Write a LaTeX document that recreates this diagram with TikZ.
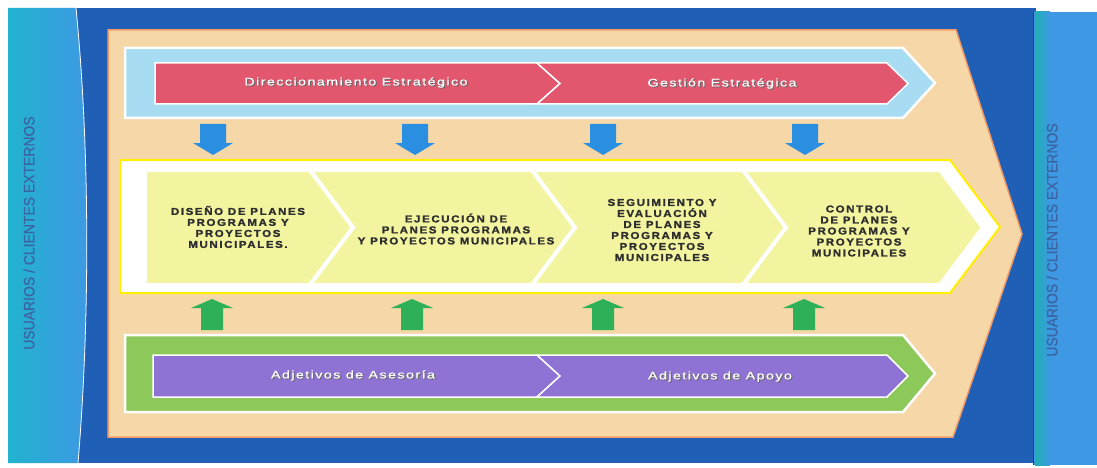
\documentclass[tikz,border=0pt]{standalone}
\usepackage{fontspec}
\setmainfont{Liberation Sans}
\newfontfamily\chevfont[LetterSpace=14, BoldFeatures={FakeBold=1.6}]{Liberation Sans}
\newfontfamily\bandfont[LetterSpace=10, FakeBold=0.6]{Liberation Sans}
\newfontfamily\vertfont[FakeBold=0.8]{Liberation Sans}
\definecolor{darkblue}{HTML}{1F5FB5}
\definecolor{cyanA}{HTML}{22B3CF}
\definecolor{cyanB}{HTML}{3E98E4}
\definecolor{tealstrip}{HTML}{1FB0B0}
\definecolor{beige}{HTML}{F6D8A8}
\definecolor{orangeline}{HTML}{F49A68}
\definecolor{lightblue}{HTML}{A8DCF2}
\definecolor{redband}{HTML}{E2566E}
\definecolor{paleyellow}{HTML}{F2F4A0}
\definecolor{yellowline}{HTML}{FFF000}
\definecolor{greenband}{HTML}{8DC85A}
\definecolor{purpleband}{HTML}{8E72D4}
\definecolor{bluearrowc}{HTML}{2A8FE0}
\definecolor{greenarrowc}{HTML}{2DB058}
\definecolor{chevtext}{HTML}{2E2E2E}
\definecolor{verttext}{HTML}{3A65A0}
\definecolor{shadowgray}{HTML}{6A6A6A}
\newcommand\shadowed[1]{\makebox[0pt][l]{\kern0.9pt\raisebox{-0.9pt}{\textcolor{shadowgray}{#1}}}\textcolor{white}{#1}}
\begin{document}
\begin{tikzpicture}[x=1pt,y=-1pt,
  bandouter/.style={line width=2.5pt, draw=white},
  bandinner/.style={line width=1.5pt, draw=white},
  chevbox/.style={fill=paleyellow, draw=white, line width=4pt, line join=miter},
  chevlabel/.style={font=\chevfont\bfseries\fontsize{10}{11}\selectfont, text=chevtext, align=center, xscale=1.15, transform shape, inner sep=0pt},
  bandlabel/.style={font=\bandfont\fontsize{11}{13}\selectfont, xscale=1.3, transform shape, inner sep=0pt},
  vertlabel/.style={font=\vertfont\fontsize{15}{17}\selectfont, text=verttext, rotate=90, xscale=0.93, transform shape, inner sep=0pt},
  downarrow/.style={fill=bluearrowc},
  uparrow/.style={fill=greenarrowc}]
\useasboundingbox (0,0) rectangle (1097,468);
\fill[white] (0,0) rectangle (1097,468);
% outer blue
\fill[darkblue] (8,8) rectangle (1036,463);
% left bar
\shade[left color=cyanA, right color=cyanB] (8,8) -- (76,8) .. controls (90,150) and (90,320) .. (78,463) -- (8,463) -- cycle;
\draw[white, line width=0.8pt] (76,8) .. controls (90,150) and (90,320) .. (78,463);
% right bar
\fill[cyanB] (1033,12) rectangle (1097,465);
\shade[left color=tealstrip, right color=cyanB] (1035,12) rectangle (1050,465);
\draw[darkblue!70!black, line width=0.8pt] (1033,12) -- (1033,465);
% beige pentagon
\fill[beige, draw=orangeline, line width=1.5pt, line join=miter] (108,30) -- (956,30) -- (1022,234) -- (953,437) -- (108,437) -- cycle;
% top band
\fill[lightblue, bandouter, line join=miter] (125,48) -- (903,48) -- (935,83) -- (903,118) -- (125,118) -- cycle;
\fill[redband, bandinner, line join=miter] (155,63) -- (537,63) -- (560,83.5) -- (537,104) -- (155,104) -- cycle;
\fill[redband, bandinner, line join=miter] (537,63) -- (887,63) -- (908,83.5) -- (887,104) -- (537,104) -- (560,83.5) -- cycle;
\node[bandlabel] (d1) at (356,83) {\shadowed{Direccionamiento Estratégico}};
\node[bandlabel] (d2) at (722,84) {\shadowed{Gestión Estratégica}};
% blue arrows
\foreach \ax in {213,415,603,805} {
  \fill[downarrow] (\ax,124) ++(-13,0) -- ++(26,0) -- ++(0,19) -- ++(7,0) -- ++(-20,12) -- ++(-20,-12) -- ++(7,0) -- cycle;
}
% middle band
\fill[white, draw=yellowline, line width=2pt, line join=miter] (120,160) -- (950,160) -- (1000,227) -- (950,293) -- (120,293) -- cycle;
\path[chevbox] (145,170) -- (310,170) -- (353,227.5) -- (310,285) -- (145,285) -- cycle;
\path[chevbox] (310,170) -- (532,170) -- (575,227.5) -- (532,285) -- (310,285) -- (353,227.5) -- cycle;
\path[chevbox] (532,170) -- (743,170) -- (786,227.5) -- (743,285) -- (532,285) -- (575,227.5) -- cycle;
\path[chevbox] (743,170) -- (940,170) -- (983,227.5) -- (940,285) -- (743,285) -- (786,227.5) -- cycle;
\node[chevlabel] (c1) at (238,227) {DISEÑO DE PLANES\\PROGRAMAS Y\\PROYECTOS\\MUNICIPALES.};
\node[chevlabel] (c2) at (456,229) {EJECUCIÓN DE\\PLANES PROGRAMAS\\Y PROYECTOS MUNICIPALES};
\node[chevlabel] (c3) at (662,230) {SEGUIMIENTO Y\\EVALUACIÓN\\DE PLANES\\PROGRAMAS Y\\PROYECTOS\\MUNICIPALES};
\node[chevlabel] (c4) at (859,231) {CONTROL\\DE PLANES\\PROGRAMAS Y\\PROYECTOS\\MUNICIPALES};
% green arrows
\foreach \ax in {212,412,603,804} {
  \fill[uparrow] (\ax,330) ++(-11,0) -- ++(22,0) -- ++(0,-22) -- ++(10,0) -- ++(-21,-9) -- ++(-21,9) -- ++(10,0) -- cycle;
}
% bottom band
\fill[greenband, bandouter, line join=miter] (125,335) -- (903,335) -- (935,373.5) -- (903,412) -- (125,412) -- cycle;
\fill[purpleband, bandinner, line join=miter] (153,355) -- (537,355) -- (560,376) -- (537,397) -- (153,397) -- cycle;
\fill[purpleband, bandinner, line join=miter] (537,355) -- (887,355) -- (908,376) -- (887,397) -- (537,397) -- (560,376) -- cycle;
\node[bandlabel] (a1) at (353,376) {\shadowed{Adjetivos de Asesoría}};
\node[bandlabel] (a2) at (720,377) {\shadowed{Adjetivos de Apoyo}};
% vertical labels
\node[vertlabel] (lb) at (29,233) {USUARIOS / CLIENTES EXTERNOS};
\node[vertlabel] (rb) at (1052,240) {USUARIOS / CLIENTES EXTERNOS};
\end{tikzpicture}
\end{document}
